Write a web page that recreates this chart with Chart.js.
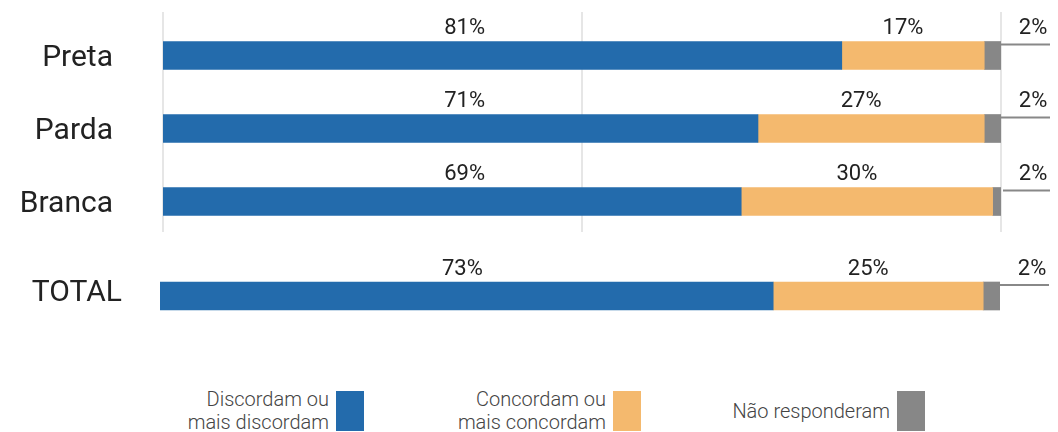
<!DOCTYPE html>
<html>
<head>
<meta charset="utf-8">
<script src="https://cdn.jsdelivr.net/npm/chart.js@4.4.0/dist/chart.umd.min.js"></script>
<style>
  body { margin: 0; background: #fff; }
  #wrap { position: relative; width: 1058px; height: 432px; overflow: hidden; font-family: Roboto, sans-serif; }
  #c1 { position: absolute; left: 0; top: 0; }
  #c2 { position: absolute; left: 0; top: 240px; }
  .leg { position: absolute; top: 391px; height: 40px; display: flex; align-items: center; gap: 7px; }
  .leg span { font-size: 20px; font-weight: 300; color: #444; line-height: 23px; text-align: right; white-space: pre; }
  .leg i { display: block; width: 28px; height: 40px; }
</style>
</head>
<body>
<div id="wrap">
  <canvas id="c1" width="1058" height="240"></canvas>
  <canvas id="c2" width="1058" height="112"></canvas>
  <div id="legend"></div>
</div>
<script>
// dados
var categorias = ['Preta', 'Parda', 'Branca'];
var discordam = [81, 71, 69];
var concordam = [17, 27, 30];
var naoResponderam = [2, 2, 2];

var totalLabel = ['TOTAL'];
var totalDiscordam = [73];
var totalConcordam = [25];
var totalNao = [2];

var series = ['Discordam ou\nmais discordam', 'Concordam ou\nmais concordam', 'Não responderam'];
var gridValues = [0, 50, 100];

var cores = ['#236BAC', '#F4B96E', '#878787'];

Chart.defaults.font.family = 'Roboto, sans-serif';

var gridPlugin = {
	id: 'grid',
	beforeDatasetsDraw: function(chart) {
		var ctx = chart.ctx, x = chart.scales.x;
		ctx.save();
		ctx.strokeStyle = '#dedede';
		ctx.lineWidth = 1.5;
		gridValues.forEach(function(v) {
			var px = x.getPixelForValue(v);
			ctx.beginPath();
			ctx.moveTo(px, 12);
			ctx.lineTo(px, 232);
			ctx.stroke();
		});
		ctx.restore();
	}
};

var labelsPlugin = {
	id: 'segLabels',
	afterDatasetsDraw: function(chart) {
		var ctx = chart.ctx, x = chart.scales.x, area = chart.chartArea;
		ctx.save();
		ctx.font = '22px Roboto';
		ctx.fillStyle = '#222';
		ctx.textAlign = 'center';
		ctx.textBaseline = 'middle';
		chart.data.datasets.forEach(function(ds, i) {
			var meta = chart.getDatasetMeta(i);
			meta.data.forEach(function(bar, j) {
				var top = bar.y - bar.height / 2;
				var ly = top - 13;
				var lx;
				if (i === 0) {
					lx = x.getPixelForValue(36);
				} else if (i === 1) {
					lx = (bar.base + bar.x) / 2 - 10;
				} else {
					lx = area.right + 32;
					ctx.strokeStyle = '#888';
					ctx.lineWidth = 2;
					ctx.beginPath();
					ctx.moveTo(Math.min(bar.x, area.right + 2), top + 3);
					ctx.lineTo(area.right + 49, top + 3);
					ctx.stroke();
				}
				ctx.fillText(ds.data[j] + '%', lx, ly);
			});
		});
		ctx.restore();
	}
};

function makeChart(el, labels, d1, d2, d3, axisWidth, tickPad, labelOffset, padding) {
	return new Chart(document.getElementById(el), {
		type: 'bar',
		data: {
			labels: labels,
			datasets: [
				{ label: series[0], data: d1, backgroundColor: cores[0] },
				{ label: series[1], data: d2, backgroundColor: cores[1] },
				{ label: series[2], data: d3, backgroundColor: cores[2] }
			]
		},
		options: {
			indexAxis: 'y',
			responsive: false,
			animation: false,
			devicePixelRatio: 1,
			layout: { padding: padding },
			datasets: { bar: { barThickness: 28, borderWidth: 0 } },
			plugins: { legend: { display: false }, tooltip: { enabled: false } },
			scales: {
				x: { stacked: true, min: 0, max: 100, display: false },
				y: {
					stacked: true,
					afterFit: function(scale) {
						scale.width = axisWidth;
						scale.paddingTop = 0;
						scale.paddingBottom = 0;
					},
					grid: { display: false, drawTicks: false },
					border: { display: false },
					ticks: { padding: tickPad, labelOffset: labelOffset, color: '#222', font: { size: 30 } }
				}
			}
		},
		plugins: el === 'c1' ? [gridPlugin, labelsPlugin] : [labelsPlugin]
	});
}

makeChart('c1', categorias, discordam, concordam, naoResponderam, 163, 50, 3, { top: 19, right: 57, bottom: 2, left: 0 });
makeChart('c2', totalLabel, totalDiscordam, totalConcordam, totalNao, 160, 38, -3, { top: 0, right: 58, bottom: 0, left: 0 });

// legenda
var legRight = [694, 417, 133];
var leg = document.getElementById('legend');
series.forEach(function(s, i) {
	var d = document.createElement('div');
	d.className = 'leg';
	d.style.right = legRight[i] + 'px';
	var t = document.createElement('span');
	t.textContent = s;
	var b = document.createElement('i');
	b.style.background = cores[i];
	d.appendChild(t);
	d.appendChild(b);
	leg.appendChild(d);
});
</script>
</body>
</html>
